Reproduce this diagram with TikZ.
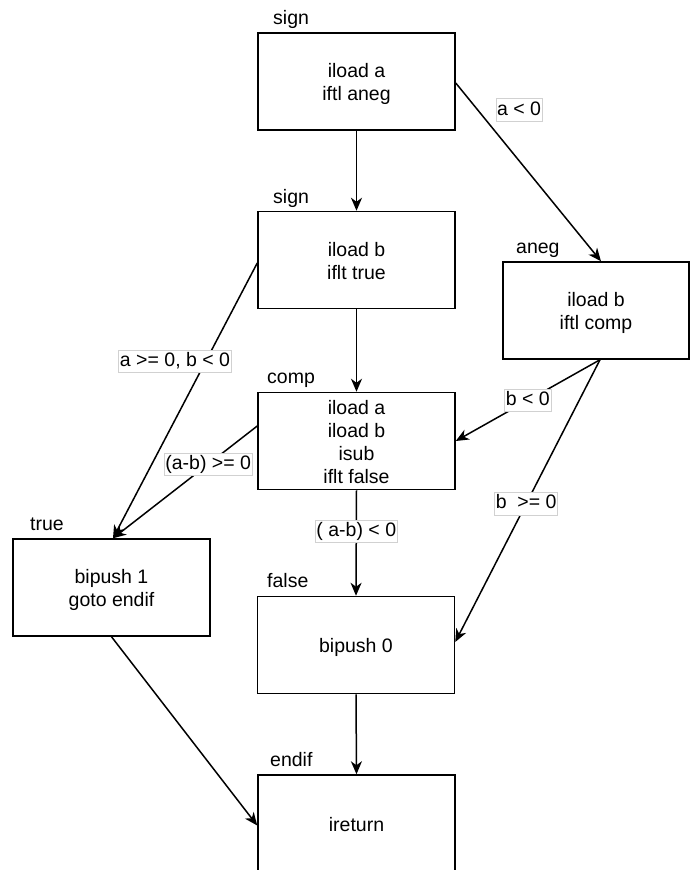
\documentclass[tikz,border=0pt]{standalone}
\usepackage{fontspec}
\setmainfont{Liberation Sans}
\usetikzlibrary{arrows.meta}
\newcommand{\topst}{\rule{0pt}{20pt}}
\newcommand{\botst}{\rule[-5pt]{0pt}{5pt}}
\begin{document}
\begin{tikzpicture}[x=1pt,y=-1pt,
  box/.style={draw, line width=1.5pt, minimum width=197pt, minimum height=97pt,
    align=center, inner sep=0pt, font=\fontsize{19.5}{23}\selectfont},
  ttl/.style={anchor=base west, inner sep=0pt, font=\fontsize{19.5}{23}\selectfont},
  lbl/.style={draw=black!18, line width=0.6pt, fill=white, inner xsep=1.2pt, inner ysep=2pt,
    text height=14.5pt, text depth=4pt, font=\fontsize{19.5}{23}\selectfont},
  arr/.style={line width=1.5pt, -{Stealth[length=13pt,width=11pt,inset=4pt]}}]
\useasboundingbox (0,0) rectangle (690,870);
% boxes
\node[box] (s1) at (356.5,81.5) {\topst iload a\\iftl aneg\botst};
\node[box] (s2) at (356.5,260) {\topst iload b\\iflt true\botst};
\node[box, minimum width=186pt] (an) at (596,310.5) {\topst iload b\\iftl comp\botst};
\node[box] (cp) at (356.5,441) {\topst iload a\\iload b\\isub\\iflt false\botst};
\node[box] (tr) at (111.5,587.5) {\topst bipush 1\\goto endif\botst};
\node[box] (fl) at (356,645) {\topst bipush 0\botst};
\node[box] (en) at (356.5,823.5) {\topst ireturn\botst};
% titles
\node[ttl] (t1) at (273,24) {sign};
\node[ttl] (t2) at (273,203) {sign};
\node[ttl] (t3) at (267,383) {comp};
\node[ttl] (t4) at (516,253) {aneg};
\node[ttl] (t5) at (30,530) {true};
\node[ttl] (t6) at (267,587) {false};
\node[ttl] (t7) at (270,766) {endif};
% edges
\draw[arr] (s1.south) -- (s2.north);
\draw[arr] ([yshift=-1.5pt]s1.east) -- ([xshift=5pt]an.north);
\draw[arr] ([yshift=-3pt]s2.west) -- ([xshift=1.5pt]tr.north);
\draw[arr] (s2.south) -- (cp.north);
\draw[arr] ([xshift=4pt]an.south) -- (cp.east) node[lbl, pos=0.5] (l3) {b < 0};
\draw[arr] ([xshift=4pt]an.south) -- ([yshift=3pt]fl.east) node[lbl, pos=0.51] (l4) {b\ \ >= 0};
\draw[arr] ([yshift=15pt]cp.west) -- ([xshift=1.5pt]tr.north) node[lbl, pos=0.34] (l5) {(a-b) >= 0};
\draw[arr] (cp.south) -- (fl.north) node[lbl, pos=0.39] (l6) {( a-b) < 0};
\draw[arr] (tr.south) -- ([yshift=-2pt]en.west);
\draw[arr] (fl.south) -- (en.north);
% free labels
\node[lbl] (l1) at (519,110) {a < 0};
\node[lbl] (l2) at (175,361.5) {a >= 0, b < 0};
\end{tikzpicture}
\end{document}
